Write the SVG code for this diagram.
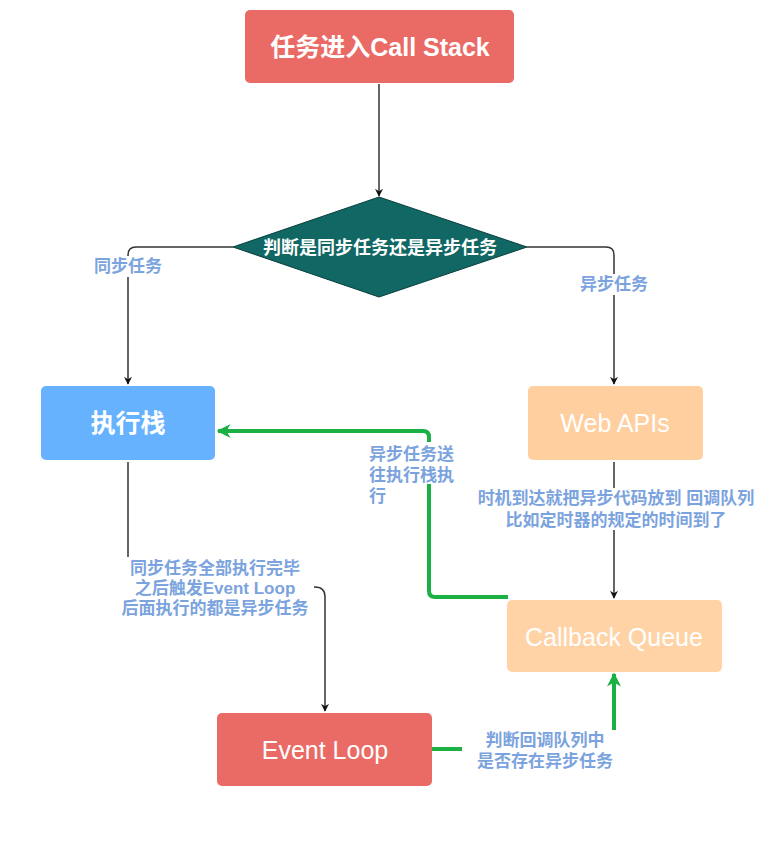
<svg xmlns="http://www.w3.org/2000/svg" width="784" height="843" viewBox="0 0 784 843">
<style>
.node-t{font-family:"Liberation Sans","Noto Sans CJK SC",sans-serif;fill:#fff;text-anchor:middle;dominant-baseline:central}
.lbl{font-family:"Liberation Sans","Noto Sans CJK SC",sans-serif;font-size:17px;font-weight:bold;fill:#7ba3de;dominant-baseline:central}
.blk{fill:none;stroke:#333;stroke-width:1.5}
.grn{fill:none;stroke:#1bb043;stroke-width:4}
.bg{fill:#fff}
</style>
<defs>
<marker id="ab" viewBox="0 0 10 10" refX="9" refY="5" markerWidth="8" markerHeight="8" markerUnits="userSpaceOnUse" orient="auto">
<path d="M0,0 L10,5 L0,10 L3,5 Z" fill="#111"/>
</marker>
<marker id="ag" viewBox="0 0 10 10" refX="9" refY="5" markerWidth="16" markerHeight="14" markerUnits="userSpaceOnUse" orient="auto">
<path d="M0,0 L10,5 L0,10 L3,5 Z" fill="#1bb043"/>
</marker>
</defs>
<rect width="784" height="843" fill="#fff"/>
<g id="connectors">
<path class="blk" d="M379,84 V196" marker-end="url(#ab)"/>
<path class="blk" d="M233,247 H136 Q128,247 128,255 V384" marker-end="url(#ab)"/>
<path class="blk" d="M527,247 H606 Q614,247 614,255 V384" marker-end="url(#ab)"/>
<path class="blk" d="M614,462 V598" marker-end="url(#ab)"/>
<path class="blk" d="M128,462 V587 H315 Q325,587 325,597 V711" marker-end="url(#ab)"/>
<path class="grn" d="M508,597 H435 Q429,597 429,591 V437 Q429,431 423,431 H218" marker-end="url(#ag)"/>
<path class="grn" d="M432,749 H608 Q614,749 614,743 V674" marker-end="url(#ag)"/>
<rect class="bg" x="92" y="256" width="73" height="21"/>
<text class="lbl" x="128" y="266" text-anchor="middle">同步任务</text>
<rect class="bg" x="578" y="274" width="72" height="21"/>
<text class="lbl" x="614" y="284" text-anchor="middle">异步任务</text>
<rect class="bg" x="367" y="442" width="92" height="42"/>
<text class="lbl" x="369" y="454">异步任务送</text>
<text class="lbl" x="369" y="475">往执行栈执</text>
<text class="lbl" x="369" y="496">行</text>
<rect class="bg" x="472" y="488" width="288" height="42"/>
<text class="lbl" x="616" y="498" text-anchor="middle">时机到达就把异步代码放到 回调队列</text>
<text class="lbl" x="616" y="520" text-anchor="middle">比如定时器的规定的时间到了</text>
<rect class="bg" x="118" y="557" width="196" height="62"/>
<text class="lbl" x="215" y="568" text-anchor="middle">同步任务全部执行完毕</text>
<text class="lbl" x="215" y="588" text-anchor="middle">之后触发Event Loop</text>
<text class="lbl" x="215" y="608" text-anchor="middle">后面执行的都是异步任务</text>
<rect class="bg" x="462" y="730" width="155" height="42"/>
<text class="lbl" x="545" y="740" text-anchor="middle">判断回调队列中</text>
<text class="lbl" x="545" y="761" text-anchor="middle">是否存在异步任务</text>
</g>
<g id="start">
<rect x="245" y="10" width="269" height="73" rx="5" fill="#ea6b66"/>
<text class="node-t" x="380" y="47" font-size="25" font-weight="bold">任务进入Call Stack</text>
</g>
<g id="decision">
<polygon points="379,197 527,247 379,297 233,247" fill="#116764" stroke="#0a3f3d" stroke-width="1"/>
<text class="node-t" x="380" y="248" font-size="18" font-weight="bold">判断是同步任务还是异步任务</text>
</g>
<g id="exec-stack">
<rect x="41" y="386" width="174" height="74" rx="5" fill="#66b2ff"/>
<text class="node-t" x="128" y="423" font-size="25" font-weight="bold">执行栈</text>
</g>
<g id="web-apis">
<rect x="528" y="386" width="175" height="74" rx="5" fill="#ffcf9f"/>
<text class="node-t" x="615" y="423" font-size="25">Web APIs</text>
</g>
<g id="callback-queue">
<rect x="507" y="600" width="215" height="72" rx="5" fill="#ffd3a6"/>
<text class="node-t" x="614" y="637" font-size="25">Callback Queue</text>
</g>
<g id="event-loop">
<rect x="217" y="713" width="215" height="73" rx="5" fill="#ea6b66"/>
<text class="node-t" x="325" y="750" font-size="25">Event Loop</text>
</g>
</svg>
